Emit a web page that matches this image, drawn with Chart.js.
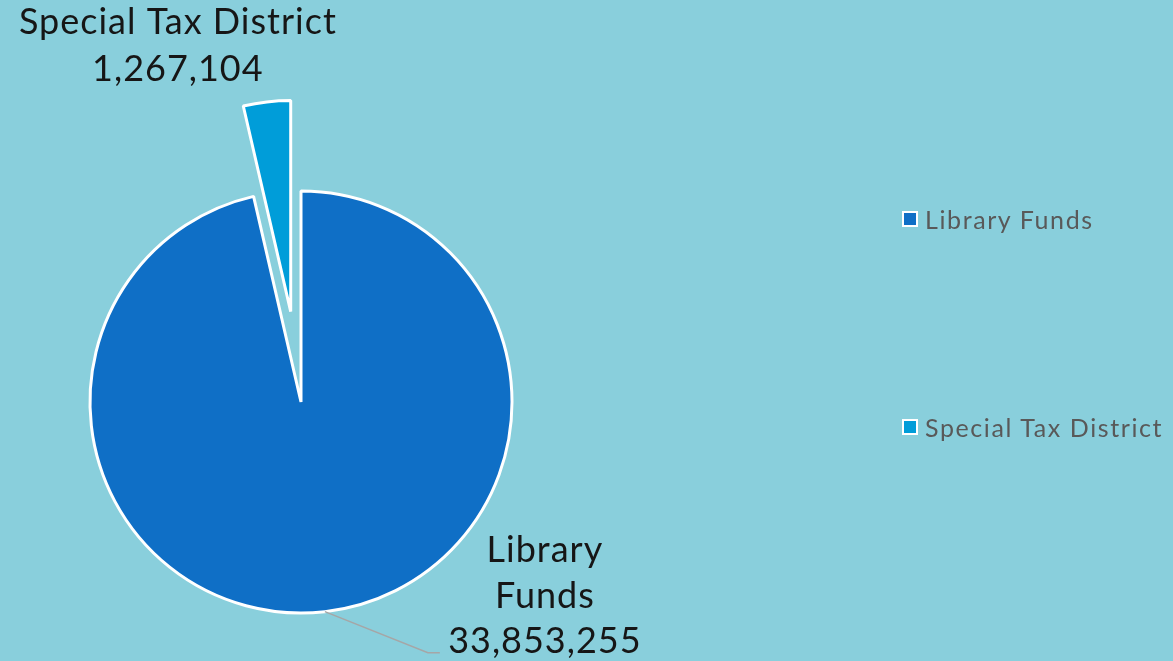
<!DOCTYPE html>
<html><head><meta charset="utf-8">
<script src="https://cdn.jsdelivr.net/npm/chart.js"></script>
<style>
html,body{margin:0;padding:0;background:#89CFDC;width:1173px;height:661px;overflow:hidden;font-family:"Lato",sans-serif;}
#wrap{position:relative;width:1173px;height:661px;}
canvas{position:absolute;left:0;top:0;}
.leg{position:absolute;left:902px;display:flex;align-items:center;color:#595959;font-size:25px;letter-spacing:1.6px;white-space:nowrap;}
.leg i{display:inline-block;width:12px;height:12px;border:2px solid #fff;margin-right:7px;}
</style></head><body>
<div id="wrap"><canvas id="c" width="1173" height="661"></canvas></div>
<script>
const categories = ["Library Funds", "Special Tax District"];
const values = [33853255, 1267104];
const valueLabels = ["33,853,255", "1,267,104"];
const colors = ["#0F6FC6", "#009DD9"];
const explode = [0, 91];
const legendTops = [220, 428];

const wrap = document.getElementById('wrap');
categories.forEach((c, i) => {
  const d = document.createElement('div');
  d.className = 'leg';
  d.style.top = (legendTops[i] - 16) + 'px';
  d.innerHTML = '<i style="background:' + colors[i] + '"></i><span>' + c + '</span>';
  wrap.appendChild(d);
});

function shift(el, i) {
  const m = (el.startAngle + el.endAngle) / 2;
  return [Math.cos(m) * explode[i], Math.sin(m) * explode[i]];
}

const explodePlugin = {
  id: 'explode',
  beforeDatasetsDraw(chart) {
    const meta = chart.getDatasetMeta(0);
    meta.data.forEach((el, i) => { if (explode[i]) el.hidden = true; });
  },
  afterDatasetsDraw(chart) {
    const ctx = chart.ctx;
    const meta = chart.getDatasetMeta(0);
    meta.data.forEach((el, i) => {
      if (!explode[i]) return;
      el.hidden = false;
      const [dx, dy] = shift(el, i);
      ctx.save();
      ctx.translate(dx, dy);
      el.draw(ctx, chart.chartArea);
      ctx.restore();
    });
  }
};

const labelPlugin = {
  id: 'pieLabels',
  afterDatasetsDraw(chart) {
    const ctx = chart.ctx;
    const meta = chart.getDatasetMeta(0);
    ctx.save();
    ctx.font = '36px Lato, sans-serif';
    ctx.letterSpacing = '1px';
    ctx.fillStyle = '#161616';
    ctx.textAlign = 'center';
    ctx.textBaseline = 'middle';
    // Library Funds
    const a0 = meta.data[0];
    const mid = (a0.startAngle + a0.endAngle) / 2;
    const sx = a0.x + Math.cos(mid) * a0.outerRadius;
    const sy = a0.y + Math.sin(mid) * a0.outerRadius;
    ctx.strokeStyle = '#A6A6A6';
    ctx.lineWidth = 1.5;
    ctx.beginPath();
    ctx.moveTo(sx, sy);
    ctx.lineTo(sx + 103, sy + 41);
    ctx.lineTo(sx + 115, sy + 41);
    ctx.stroke();
    const lx = sx + 220;
    ctx.fillText('Library', lx, sy - 61);
    ctx.fillText('Funds', lx, sy - 15);
    ctx.fillText(valueLabels[0], lx, sy + 30);
    // Special Tax District
    const a1 = meta.data[1];
    const m1 = (a1.startAngle + a1.endAngle) / 2;
    const [dx, dy] = shift(a1, 1);
    const px = a1.x + dx + Math.cos(m1) * a1.outerRadius, py = a1.y + dy + Math.sin(m1) * a1.outerRadius;
    ctx.fillText(categories[1], px - 89, py - 80);
    ctx.fillText(valueLabels[1], px - 89, py - 33);
    ctx.restore();
  }
};

new Chart(document.getElementById('c'), {
  type: 'pie',
  data: {
    labels: categories,
    datasets: [{
      data: values,
      backgroundColor: colors,
      borderColor: '#FFFFFF',
      borderWidth: 3
    }]
  },
  options: {
    responsive: false,
    animation: false,
    radius: 211,
    layout: { padding: { left: 0, right: 571, top: 143, bottom: 0 } },
    plugins: { legend: { display: false }, tooltip: { enabled: false } }
  },
  plugins: [explodePlugin, labelPlugin]
});
</script>
</body></html>
